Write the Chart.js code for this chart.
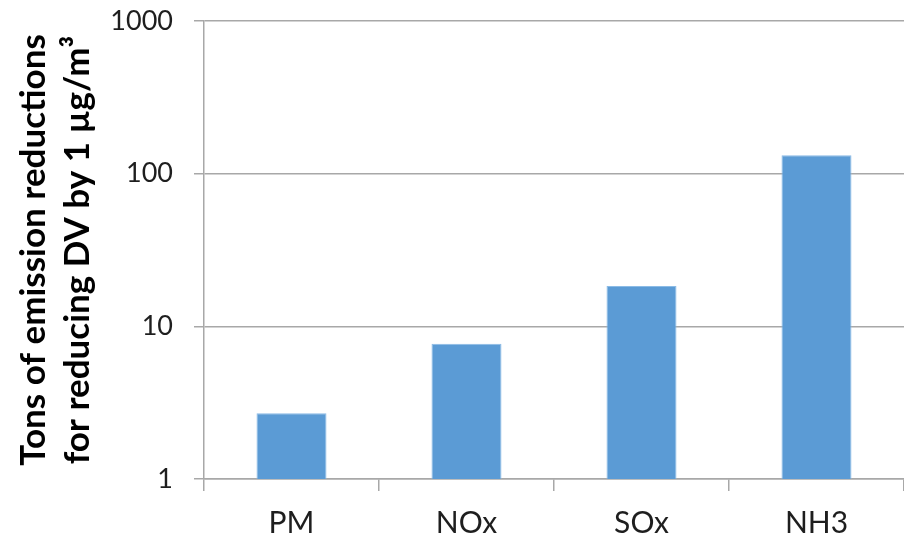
<!DOCTYPE html>
<html><head><meta charset="utf-8">
<script src="https://cdn.jsdelivr.net/npm/chart.js@4/dist/chart.umd.min.js"></script>
<style>html,body{margin:0;padding:0;background:#fff}#wrap{width:904px;height:543px}</style>
</head>
<body><div id="wrap"><canvas id="c" width="904" height="543"></canvas></div>
<script>
const categories = ['PM', 'NOx', 'SOx', 'NH3'];
const reductions = [2.7, 7.7, 18.4, 132];
const yTickValues = [1, 10, 100, 1000];
const yTitle = ['Tons of emission reductions', 'for reducing DV by 1 \u00b5g/m\u00b3'];

const gridColor = '#a8a8a8';
new Chart(document.getElementById('c'), {
  type: 'bar',
  data: {
    labels: categories,
    datasets: [{
      data: reductions,
      backgroundColor: '#5b9bd5',
      borderColor: '#8bbbe6',
      borderWidth: 1,
      barPercentage: 0.4,
      categoryPercentage: 1.0
    }]
  },
  options: {
    responsive: false,
    animation: false,
    layout: { padding: { top: 21, right: -4, left: 0, bottom: 0 } },
    plugins: { legend: { display: false }, tooltip: { enabled: false } },
    scales: {
      x: {
        grid: { offset: true, drawOnChartArea: false, color: gridColor, lineWidth: 1.5, tickLength: 12 },
        border: { color: gridColor, width: 1.5 },
        ticks: { color: '#1e1e1e', font: { family: 'Lato', size: 30 }, padding: 14, maxRotation: 0 },
        afterFit(scale) { scale.height = 64; scale.paddingLeft = 0; scale.paddingRight = 0; }
      },
      y: {
        type: 'logarithmic',
        min: 1, max: 1000,
        afterBuildTicks(scale) { scale.ticks = yTickValues.map(v => ({ value: v })); },
        grid: { color: gridColor, lineWidth: 1.5, tickLength: 10 },
        border: { color: gridColor, width: 1.5 },
        ticks: {
          color: '#1e1e1e', font: { family: 'Lato', size: 27 }, padding: 21,
          callback: (v) => String(v)
        },
        title: {
          display: true, text: yTitle, color: '#000000',
          font: { family: 'Lato', size: 35, weight: 'bold', lineHeight: 1.25 },
          padding: { top: 12, bottom: 0 }
        },
        afterFit(scale) { scale.width = 204; scale.paddingTop = 0; scale.paddingBottom = 0; }
      }
    }
  }
});
</script>
</body></html>
